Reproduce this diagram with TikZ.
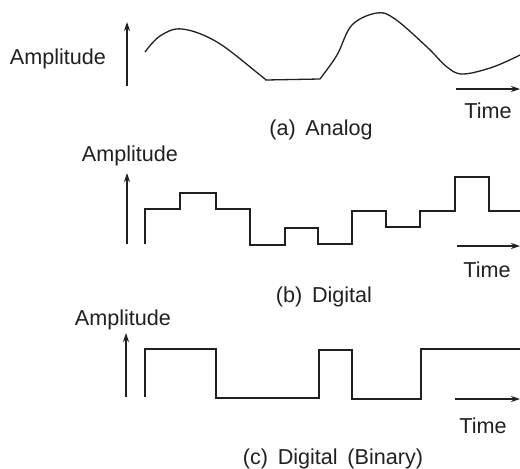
\documentclass[tikz,border=0pt]{standalone}
\usepackage{fontspec}
\setmainfont{Liberation Sans}
\usetikzlibrary{arrows.meta}
\definecolor{ink}{HTML}{231F20}
\tikzset{
  lbl/.style={text=ink, font=\fontsize{21.6}{26}\selectfont, inner sep=0pt, anchor=base},
  axis/.style={draw=ink, line width=1.2pt, -{Stealth[length=9pt, width=6pt]}},
  wave/.style={draw=ink, line width=1.3pt, line join=miter},
}
\begin{document}
\begin{tikzpicture}[x=1pt, y=-1pt]
\useasboundingbox (0,0) rectangle (520,469);

% ---------- (a) Analog ----------
\node[lbl] (ampA) at (58,64) {Amplitude};
\coordinate (aA0) at (127,86);
\coordinate (aA1) at (127,22);
\draw[axis] (aA0) -- (aA1);
\draw[wave] plot[smooth, tension=0.6] coordinates {(145,52) (160,36) (182,29) (217,42) (260,75) (266,80)}
  -- (320,79)
  plot[smooth, tension=0.6] coordinates {(320,79) (337,55) (352,25) (377,13) (395,19) (427,47) (447,67) (463,74) (493,67) (520,55)};
\coordinate (tA0) at (456,89);
\coordinate (tA1) at (520,89);
\draw[axis] (tA0) -- (tA1);
\node[lbl] (timeA) at (488,118) {Time};
\node[lbl] (capA) at (321,135) {(a)\hspace{0.45em}Analog};

% ---------- (b) Digital ----------
\node[lbl] (ampB) at (130,161) {Amplitude};
\coordinate (aB0) at (127,244);
\coordinate (aB1) at (127,173);
\draw[axis] (aB0) -- (aB1);
\draw[wave] (145,244) |- (180,209) |- (216,193) |- (250,209) |- (285,245)
  |- (318,228) |- (352,244) |- (386,211) |- (420,227) |- (455,211)
  |- (489,177) |- (520,211);
\coordinate (tB0) at (457,246);
\coordinate (tB1) at (520,246);
\draw[axis] (tB0) -- (tB1);
\node[lbl] (timeB) at (487,277) {Time};
\node[lbl] (capB) at (324,302) {(b)\hspace{0.45em}Digital};

% ---------- (c) Digital (Binary) ----------
\node[lbl] (ampC) at (123,325) {Amplitude};
\coordinate (aC0) at (126,397);
\coordinate (aC1) at (126,333);
\draw[axis] (aC0) -- (aC1);
\draw[wave] (145,397) |- (216,349) |- (319,398) |- (352,350) |- (421,399) |- (520,349);
\coordinate (tC0) at (455,399);
\coordinate (tC1) at (520,399);
\draw[axis] (tC0) -- (tC1);
\node[lbl] (timeC) at (483,433) {Time};
\node[lbl] (capC) at (333,464) {(c)\hspace{0.45em}Digital\hspace{0.45em}(Binary)};
\end{tikzpicture}
\end{document}
